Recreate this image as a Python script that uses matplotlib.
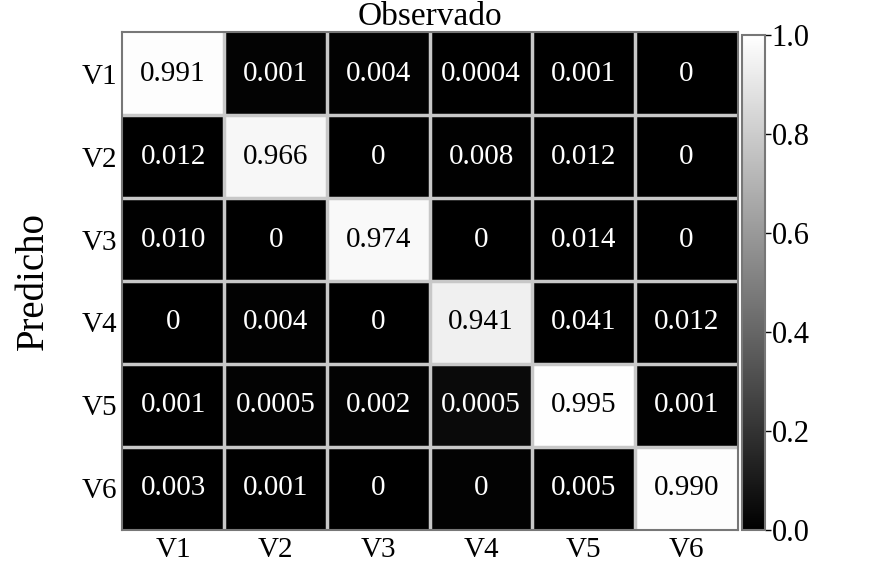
import numpy as np
import matplotlib
matplotlib.use('Agg')
import matplotlib.pyplot as plt

plt.rcParams['font.family'] = ['Liberation Serif', 'DejaVu Serif']

labels = ['V1', 'V2', 'V3', 'V4', 'V5', 'V6']
# valores mostrados en cada celda (fila = predicho, columna = observado)
texts = [['0.991', '0.001', '0.004', '0.0004', '0.001', '0'],
         ['0.012', '0.966', '0', '0.008', '0.012', '0'],
         ['0.010', '0', '0.974', '0', '0.014', '0'],
         ['0', '0.004', '0', '0.941', '0.041', '0.012'],
         ['0.001', '0.0005', '0.002', '0.0005', '0.995', '0.001'],
         ['0.003', '0.001', '0', '0', '0.005', '0.990']]
vals = np.array([[float(t) for t in row] for row in texts])

fig = plt.figure(figsize=(8.7, 5.62), dpi=100)
ax = fig.add_axes([0.140, 0.057, 0.708, 0.886])
cax = fig.add_axes([0.853, 0.057, 0.026, 0.881])

# el color de la figura original sigue la matriz transpuesta
im = ax.imshow(vals.T, cmap='gray', vmin=0, vmax=1, aspect='auto')

for i in range(6):
    for j in range(6):
        c = 'black' if vals.T[i, j] > 0.5 else 'white'
        ax.text(j, i, texts[i][j], ha='center', va='center', color=c, fontsize=21)

for k in range(1, 6):
    ax.axhline(k - 0.5, color='#c8c8c8', lw=2.5)
    ax.axvline(k - 0.5, color='#c8c8c8', lw=2.5)

ax.set_xticks(range(6))
ax.set_xticklabels(labels, fontsize=21)
ax.set_yticks(range(6))
ax.set_yticklabels(labels, fontsize=21)
ax.tick_params(length=0, pad=3)
ax.tick_params(axis='x', pad=5)
ax.set_title('Observado', fontsize=24, pad=2)
ax.set_ylabel('Predicho', fontsize=28, labelpad=22)
for s in ax.spines.values():
    s.set_color('#777777')
    s.set_linewidth(1.5)

cb = fig.colorbar(im, cax=cax)
cb.set_ticks([0, 0.2, 0.4, 0.6, 0.8, 1.0])
cb.ax.tick_params(labelsize=22, length=4, width=1, pad=1)
cb.outline.set_edgecolor('#777777')
cb.outline.set_linewidth(1.5)

fig.savefig('out.png', dpi=100)
